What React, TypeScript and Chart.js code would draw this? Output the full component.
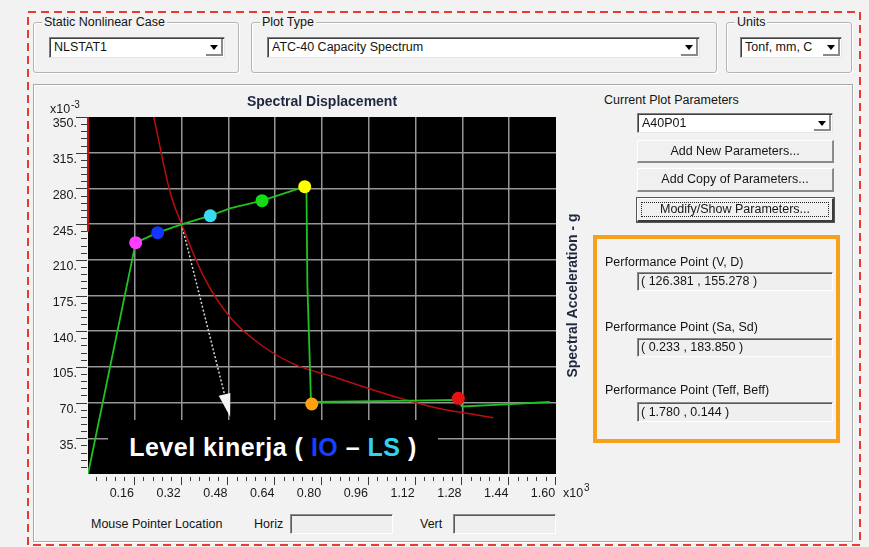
import React, { useEffect, useRef } from "react";
import { Chart, registerables } from "chart.js";

Chart.register(...registerables);

// ---- axis definition (x in x10^3, y in x10^-3) ----
const xMin = 0;
const xMax = 1.6;
const xMinorStep = 0.032;
const xMajorStep = 0.16;
const yMin = 0;
const yMax = 350;
const yMinorStep = 7;
const yMajorStep = 35;

// ---- capacity curve (green) ----
const capacitySd = [0, 0.163, 0.238, 0.32, 0.418, 0.485, 0.595, 0.741, 0.747, 0.75, 0.756, 0.762, 0.766, 1.055, 1.262, 1.272, 1.279, 1.409, 1.579];
const capacitySa = [0, 226.8, 236.6, 244.8, 253.2, 260.5, 268, 281.7, 276, 185, 131, 74, 70.6, 71.6, 72.6, 69, 66.2, 68, 70.6];

// ---- demand spectrum (red) ----
const demandSd = [0.225, 0.28, 0.32, 0.40, 0.485, 0.599, 0.714, 0.839, 0.953, 1.067, 1.181, 1.295, 1.386];
const demandSa = [350, 277, 244.8, 191, 154, 125, 106.5, 95.4, 84.5, 74.2, 65.5, 59.5, 55.2];
const demandStartSd = [0, 0];
const demandStartSa = [237.5, 350];

// ---- hinge state points ----
const stateSd = [0.163, 0.238, 0.418, 0.595, 0.741, 0.765, 1.266];
const stateSa = [226.8, 236.6, 253.2, 268, 281.7, 68.6, 74.2];
const stateColors = ["#ff3cff", "#1236ff", "#38dcf4", "#14dc14", "#ffff00", "#ffa012", "#e41414"];

// ---- arrow annotation (data units) ----
const arrowFrom = [0.32, 244.8];
const arrowTo = [0.486, 56.2];

const FONT = '"Liberation Sans", Arial, sans-serif';
const BG = "#f2f2f2";

const isMajor = (v: number, step: number) => Math.abs(v / step - Math.round(v / step)) < 1e-6;

const buildTicks = (min: number, max: number, step: number) => (axis: any) => {
  const n = Math.round((max - min) / step);
  const t: any[] = [];
  for (let i = 0; i <= n; i++) t.push({ value: +(min + i * step).toFixed(6) });
  axis.ticks = t;
};

const decorPlugin = {
  id: "decor",
  beforeDraw(chart: any) {
    const { ctx, chartArea: a } = chart;
    ctx.save();
    ctx.fillStyle = "#000";
    ctx.fillRect(a.left, a.top, a.right - a.left, a.bottom - a.top);
    ctx.restore();
  },
  beforeDatasetsDraw(chart: any) {
    const { ctx, scales } = chart;
    const x0 = scales.x.getPixelForValue(arrowFrom[0]);
    const y0 = scales.y.getPixelForValue(arrowFrom[1]);
    const x1 = scales.x.getPixelForValue(arrowTo[0]);
    const y1 = scales.y.getPixelForValue(arrowTo[1]);
    const ang = Math.atan2(y1 - y0, x1 - x0);
    const headLen = 23;
    const headHalf = 6;
    const bx = x1 - headLen * Math.cos(ang);
    const by = y1 - headLen * Math.sin(ang);
    ctx.save();
    ctx.strokeStyle = "#d8d8d8";
    ctx.lineWidth = 1.5;
    ctx.setLineDash([2, 2]);
    ctx.beginPath();
    ctx.moveTo(x0, y0);
    ctx.lineTo(bx, by);
    ctx.stroke();
    ctx.setLineDash([]);
    ctx.fillStyle = "#f4f4f4";
    ctx.beginPath();
    ctx.moveTo(x1, y1);
    ctx.lineTo(bx + headHalf * Math.sin(ang), by - headHalf * Math.cos(ang));
    ctx.lineTo(bx - headHalf * Math.sin(ang), by + headHalf * Math.cos(ang));
    ctx.closePath();
    ctx.fill();
    ctx.restore();
  },
  afterDraw(chart: any) {
    const { ctx, chartArea: a, scales } = chart;
    const { x, y } = scales;
    ctx.save();
    // tick marks
    ctx.strokeStyle = "#3a3a3a";
    ctx.lineWidth = 1;
    x.ticks.forEach((t: any) => {
      if (t.value <= xMin) return;
      const px = Math.round(x.getPixelForValue(t.value)) - 0.5;
      const len = isMajor(t.value, xMajorStep) ? 8 : 4;
      ctx.beginPath();
      ctx.moveTo(px, a.bottom + 3);
      ctx.lineTo(px, a.bottom + 3 + len);
      ctx.stroke();
    });
    y.ticks.forEach((t: any) => {
      if (t.value <= yMin) return;
      const py = Math.round(y.getPixelForValue(t.value)) + 0.5;
      const len = isMajor(t.value, yMajorStep) ? 11 : 6;
      ctx.beginPath();
      ctx.moveTo(a.left - 1, py);
      ctx.lineTo(a.left - 1 - len, py);
      ctx.stroke();
    });
    // multipliers
    ctx.fillStyle = "#1a1a1a";
    ctx.textBaseline = "alphabetic";
    ctx.textAlign = "left";
    ctx.font = `12.5px ${FONT}`;
    ctx.fillText("x10", a.left - 38, a.top - 4);
    ctx.font = `10px ${FONT}`;
    ctx.fillText("-3", a.left - 17, a.top - 9);
    ctx.font = `12.5px ${FONT}`;
    ctx.fillText("x10", a.right + 7, a.bottom + 23);
    ctx.font = `10px ${FONT}`;
    ctx.fillText("3", a.right + 28, a.bottom + 17);
    // titles
    ctx.fillStyle = "#1e2640";
    ctx.font = `bold 14px ${FONT}`;
    ctx.textAlign = "center";
    ctx.textBaseline = "middle";
    ctx.fillText("Spectral Displacement", (a.left + a.right) / 2, a.top - 15);
    ctx.translate(a.right + 17, (a.top + a.bottom) / 2);
    ctx.rotate(-Math.PI / 2);
    ctx.fillText("Spectral Acceleration - g", 0, 0);
    ctx.restore();
  },
};

function PlotChart() {
  const ref = useRef<HTMLCanvasElement | null>(null);
  useEffect(() => {
    if (!ref.current) return;
    const chart = new Chart(ref.current, {
      type: "scatter",
      data: {
        datasets: [
          {
            label: "States",
            data: stateSd.map((v, i) => ({ x: v, y: stateSa[i] })),
            pointRadius: 6.5,
            pointBackgroundColor: stateColors,
            pointBorderColor: stateColors,
            pointBorderWidth: 0,
            showLine: false,
            order: 0,
          },
          {
            label: "Capacity",
            data: capacitySd.map((v, i) => ({ x: v, y: capacitySa[i] })),
            showLine: true,
            borderColor: "#1fc21f",
            borderWidth: 1.8,
            pointRadius: 0,
            tension: 0,
            order: 1,
          },
          {
            label: "Demand",
            data: demandSd.map((v, i) => ({ x: v, y: demandSa[i] })),
            showLine: true,
            borderColor: "#b80e0e",
            borderWidth: 1.5,
            pointRadius: 0,
            cubicInterpolationMode: "monotone",
            order: 2,
          },
          {
            label: "DemandStart",
            data: demandStartSd.map((v, i) => ({ x: v, y: demandStartSa[i] })),
            showLine: true,
            borderColor: "#c01010",
            borderWidth: 2,
            pointRadius: 0,
            clip: false,
            order: 2,
          },
        ],
      },
      options: {
        animation: false,
        responsive: false,
        devicePixelRatio: 1,
        layout: { padding: { top: 29, right: 40, left: 0, bottom: 0 } },
        plugins: { legend: { display: false }, tooltip: { enabled: false }, title: { display: false } },
        events: [],
        scales: {
          x: {
            type: "linear",
            min: xMin,
            max: xMax,
            afterBuildTicks: buildTicks(xMin, xMax, xMinorStep),
            afterFit: (s: any) => {
              s.height = 34;
            },
            border: { display: false },
            grid: {
              drawTicks: false,
              lineWidth: 1.5,
              color: (c: any) =>
                c.tick && isMajor(c.tick.value, xMajorStep) && c.tick.value > xMin + 1e-6 && c.tick.value < xMax - 1e-6
                  ? "#969696"
                  : "rgba(0,0,0,0)",
            },
            ticks: {
              autoSkip: false,
              maxRotation: 0,
              padding: 12,
              labelOffset: -13,
              color: "#1a1a1a",
              font: { family: FONT, size: 12.5 },
              callback: (v: any) => (v > xMin && isMajor(v, xMajorStep) ? Number(v).toFixed(2) : ""),
            },
          },
          y: {
            type: "linear",
            min: yMin,
            max: yMax,
            afterBuildTicks: buildTicks(yMin, yMax, yMinorStep),
            afterFit: (s: any) => {
              s.width = 48;
            },
            border: { display: false },
            grid: {
              drawTicks: false,
              lineWidth: 1.5,
              color: (c: any) =>
                c.tick && isMajor(c.tick.value, yMajorStep) && c.tick.value > yMin + 1e-6 && c.tick.value < yMax - 1e-6
                  ? "#969696"
                  : "rgba(0,0,0,0)",
            },
            ticks: {
              autoSkip: false,
              padding: 11,
              labelOffset: 7,
              color: "#1a1a1a",
              font: { family: FONT, size: 12.5 },
              callback: (v: any) => (v > yMin && isMajor(v, yMajorStep) ? `${Math.round(v)}.` : ""),
            },
          },
        },
      },
      plugins: [decorPlugin],
    } as any);
    return () => chart.destroy();
  }, []);
  return (
    <canvas
      ref={ref}
      width={556}
      height={420}
      style={{ position: "absolute", left: 40, top: 88, width: 556, height: 420 }}
    />
  );
}

const abs = (x: number, y: number, w: number, h: number): React.CSSProperties => ({
  position: "absolute",
  left: x,
  top: y,
  width: w,
  height: h,
  boxSizing: "border-box",
});

function GroupBox({ x, y, w, h, label }: any) {
  return (
    <div
      style={{
        ...abs(x, y, w, h),
        border: "1px solid #b4b4b4",
        borderRadius: 3,
        boxShadow: "inset 1px 1px 0 #fff, 1px 1px 0 #fff",
      }}
    >
      <span style={{ position: "absolute", left: 8, top: -9, background: BG, padding: "0 2px", lineHeight: "16px" }}>
        {label}
      </span>
    </div>
  );
}

function Dropdown({ x, y, w, h, text }: any) {
  return (
    <div
      style={{
        ...abs(x, y, w, h),
        background: "#fff",
        borderTop: "1px solid #7f7f7f",
        borderLeft: "1px solid #7f7f7f",
        borderRight: "1px solid #e6e6e6",
        borderBottom: "1px solid #e6e6e6",
        boxShadow: "inset 1px 1px 0 #404040",
      }}
    >
      <span style={{ position: "absolute", left: 4, top: 0, lineHeight: `${h - 2}px` }}>{text}</span>
      <div
        style={{
          position: "absolute",
          right: 1,
          top: 1,
          bottom: 1,
          width: 17,
          background: "#fff",
          borderRight: "2px solid #8a8a8a",
          borderBottom: "2px solid #8a8a8a",
          boxSizing: "border-box",
        }}
      >
        <div
          style={{
            position: "absolute",
            left: 4,
            top: 6,
            width: 0,
            height: 0,
            borderLeft: "4px solid transparent",
            borderRight: "4px solid transparent",
            borderTop: "5px solid #000",
          }}
        />
      </div>
    </div>
  );
}

function Button({ x, y, w, h, text, focused }: any) {
  return (
    <div
      style={{
        ...abs(x, y, w, h),
        background: "#f0f0f0",
        borderTop: "1px solid #ffffff",
        borderLeft: "1px solid #ffffff",
        borderRight: focused ? "2px solid #3a3a3a" : "2px solid #8a8a8a",
        borderBottom: focused ? "2px solid #3a3a3a" : "2px solid #8a8a8a",
        outline: focused ? "1px solid #555" : "none",
        textAlign: "center",
        lineHeight: `${h - 3}px`,
      }}
    >
      {focused && (
        <div style={{ position: "absolute", left: 3, top: 3, right: 3, bottom: 3, border: "1px dotted #222" }} />
      )}
      {text}
    </div>
  );
}

function TextBox({ x, y, w, h, text }: any) {
  return (
    <div
      style={{
        ...abs(x, y, w, h),
        background: "#efefef",
        borderTop: "1px solid #8a8a8a",
        borderLeft: "1px solid #8a8a8a",
        borderRight: "1px solid #ffffff",
        borderBottom: "1px solid #ffffff",
        boxShadow: "inset 1px 1px 0 #5a5a5a",
        paddingLeft: 3,
        lineHeight: `${h - 2}px`,
      }}
    >
      {text}
    </div>
  );
}

const Label = ({ x, y, text }: any) => (
  <span style={{ position: "absolute", left: x, top: y - 8, lineHeight: "16px", whiteSpace: "nowrap" }}>{text}</span>
);

export default function App() {
  useEffect(() => {
    document.body.style.margin = "0";
  }, []);
  return (
    <div
      style={{
        position: "fixed",
        left: 0,
        top: 0,
        width: 869,
        height: 547,
        background: BG,
        fontFamily: FONT,
        fontSize: 12.5,
        color: "#141414",
        overflow: "hidden",
      }}
    >
      {/* red dashed frame */}
      <svg width={869} height={547} style={{ position: "absolute", left: 0, top: 0 }}>
        <rect x={28} y={12} width={832} height={533} fill="none" stroke="#e83a30" strokeWidth={2} strokeDasharray="8 5" />
      </svg>

      <GroupBox x={33} y={22} w={206} h={51} label="Static Nonlinear Case" />
      <Dropdown x={49} y={37} w={176} h={21} text="NLSTAT1" />
      <GroupBox x={251} y={22} w={466} h={51} label="Plot Type" />
      <Dropdown x={267} y={37} w={433} h={21} text="ATC-40 Capacity Spectrum" />
      <GroupBox x={726} y={22} w={126} h={51} label="Units" />
      <Dropdown x={740} y={37} w={102} h={21} text="Tonf, mm, C" />

      {/* main panel */}
      <div
        style={{
          ...abs(33, 84, 820, 458),
          border: "1px solid #a8a8a8",
          boxShadow: "inset 1px 1px 0 #fff, 1px 1px 0 #fff",
        }}
      />

      <PlotChart />

      {/* overlay label */}
      <div
        style={{
          ...abs(108, 420, 330, 54),
          background: "#000",
          color: "#fff",
          fontWeight: "bold",
          fontSize: 25,
          letterSpacing: 0.5,
          textAlign: "center",
          lineHeight: "54px",
          whiteSpace: "nowrap",
        }}
      >
        Level kinerja ( <span style={{ color: "#1640ff" }}>IO</span> – <span style={{ color: "#2fd4ee" }}>LS</span> )
      </div>

      {/* right controls */}
      <Label x={604} y={100} text="Current Plot Parameters" />
      <Dropdown x={637} y={113} w={196} h={20} text="A40P01" />
      <Button x={637} y={140} w={197} h={23} text="Add New Parameters..." />
      <Button x={637} y={168} w={197} h={24} text="Add Copy of Parameters..." />
      <Button x={637} y={198} w={197} h={24} text="Modify/Show Parameters..." focused />

      <div style={{ ...abs(593, 235, 247, 208), border: "4px solid #f6a11c" }} />
      <Label x={605} y={262} text="Performance Point (V, D)" />
      <TextBox x={637} y={272} w={196} h={19} text="( 126.381 , 155.278 )" />
      <Label x={605} y={327} text="Performance Point (Sa, Sd)" />
      <TextBox x={637} y={338} w={196} h={19} text="( 0.233 , 183.850 )" />
      <Label x={605} y={390} text="Performance Point (Teff, Beff)" />
      <TextBox x={637} y={402} w={196} h={20} text="( 1.780 , 0.144 )" />

      {/* mouse pointer row */}
      <Label x={91} y={524} text="Mouse Pointer Location" />
      <Label x={254} y={524} text="Horiz" />
      <TextBox x={290} y={514} w={103} h={20} text="" />
      <Label x={420} y={524} text="Vert" />
      <TextBox x={453} y={514} w={103} h={20} text="" />
    </div>
  );
}
